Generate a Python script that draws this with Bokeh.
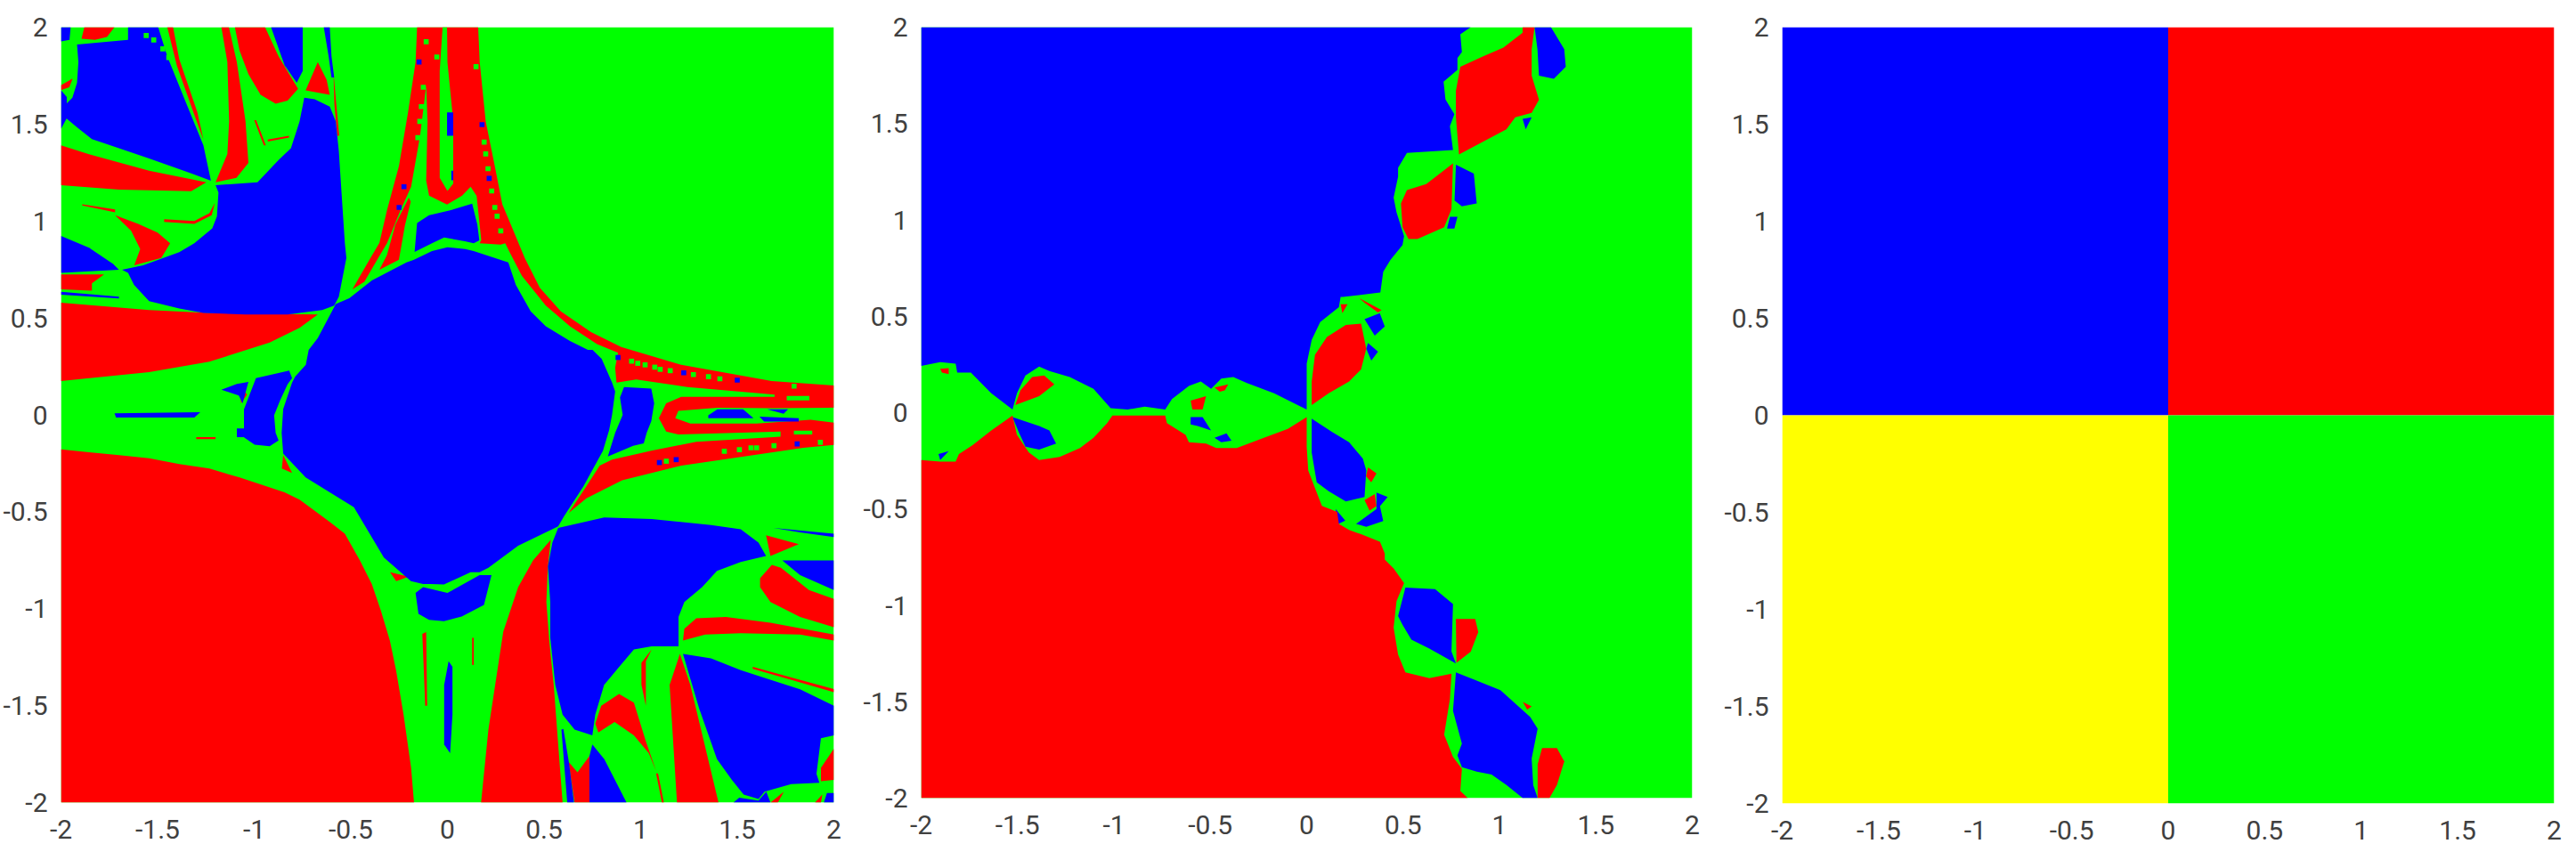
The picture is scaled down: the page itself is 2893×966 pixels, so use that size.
from bokeh.plotting import figure
from bokeh.layouts import row
from bokeh.models import Range1d, FixedTicker
from bokeh.embed import file_html
from bokeh.resources import INLINE

RED, GREEN, BLUE, YELLOW = "#ff0000", "#00ff00", "#0000ff", "#ffff00"
TICKS = [-2, -1.5, -1, -0.5, 0, 0.5, 1, 1.5, 2]
TICK_LABELS = ["-2", "-1.5", "-1", "-0.5", "0", "0.5", "1", "1.5", "2"]

FULL = [(-2, -2), (2, -2), (2, 2), (-2, 2)]

# ---------- left panel: region outlines ----------
A_FAN = [(-1.917,1.911),(-1.653,1.934),(-1.653,2),(-1.497,2),(-1.45,1.85),(-1.357,1.62),(-1.263,1.39),(-1.224,1.208),(-1.326,1.246),(-1.544,1.323),(-1.70,1.376),(-1.84,1.422),(-1.917,1.483),(-1.972,1.529),(-1.972,1.605),(-1.941,1.636),(-1.917,1.713),(-1.91,1.82)]
A_CORNER = [(-2,2),(-1.95,2),(-1.956,1.934),(-2,1.927)]
A_STRIP = [(-2,1.675),(-1.97,1.64),(-1.97,1.53),(-2,1.475)]
A_TOP = [(-0.913,2),(-0.749,2),(-0.749,1.774),(-0.78,1.713),(-0.843,1.804)]
A_TOP2 = [(-0.64,2),(-0.609,2),(-0.6,1.85),(-0.586,1.74),(-0.6,1.74),(-0.615,1.85)]
A_WEDGE = [(-1.2,1.185),(-0.983,1.2),(-0.874,1.315),(-0.81,1.376),(-0.765,1.514),(-0.741,1.636),(-0.687,1.628),(-0.609,1.59),(-0.578,1.514),(-0.562,1.36),(-0.547,1.13),(-0.531,0.887),(-0.523,0.809),(-0.562,0.61),(-0.586,0.564),(-0.648,0.541),(-0.827,0.518),(-1.045,0.518),(-1.263,0.526),(-1.388,0.549),(-1.544,0.587),(-1.622,0.671),(-1.653,0.732),(-1.684,0.748),(-1.575,0.771),(-1.388,0.839),(-1.31,0.885),(-1.217,0.962),(-1.193,1.024),(-1.185,1.147)]
A_LEFT = [(-2,0.923),(-1.855,0.862),(-1.73,0.778),(-1.70,0.748),(-2,0.732)]
A_SLIT = [(-2,0.635),(-1.7,0.61),(-1.7,0.6),(-2,0.62)]
A_INNER = [(-1.723,0.008),(-1.279,0.014),(-1.31,-0.014),(-1.715,-0.014)]
A_CRES_L = [(-0.991,0.19),(-0.819,0.228),(-0.804,0.19),(-0.827,0.159),(-0.866,0.075),(-0.897,-0.002),(-0.889,-0.093),(-0.874,-0.132),(-0.92,-0.162),(-0.998,-0.154),(-1.053,-0.116),(-1.053,0.029)]
A_DIAMOND = [(-0.578,0.572),(-0.671,0.396),(-0.718,0.335),(-0.733,0.258),(-0.788,0.197),(-0.804,0.167),(-0.85,0.03),(-0.858,-0.093),(-0.85,-0.2),(-0.734,-0.323),(-0.484,-0.476),(-0.329,-0.736),(-0.189,-0.858),(-0.126,-0.873),(-0.087,-0.873),(-0.018,-0.875),(0.12,-0.812),(0.166,-0.812),(0.212,-0.789),(0.366,-0.675),(0.573,-0.575),(0.604,-0.522),(0.704,-0.369),(0.788,-0.216),(0.805,-0.185),(0.837,-0.078),(0.852,0.0),(0.868,0.121),(0.852,0.167),(0.798,0.289),(0.751,0.335),(0.727,0.335),(0.634,0.381),(0.509,0.457),(0.431,0.534),(0.354,0.671),(0.315,0.786),(0.213,0.82),(0.136,0.845),(0.092,0.855),(0.0,0.865),(-0.08,0.845),(-0.173,0.80),(-0.212,0.786),(-0.391,0.694),(-0.508,0.602)]
A_LENS_T = [(-0.157,0.99),(-0.095,1.03),(0.014,1.055),(0.128,1.09),(0.155,0.98),(0.165,0.9),(0.136,0.885),(0.09,0.895),(-0.017,0.915),(-0.08,0.885),(-0.17,0.84)]
A_LENS_B = [(-0.165,-0.919),(-0.126,-0.889),(0.0,-0.919),(0.166,-0.827),(0.228,-0.827),(0.189,-0.98),(0.074,-1.04),(-0.018,-1.064),(-0.095,-1.057),(-0.15,-1.026)]
A_CRES_R = [(0.914,0.144),(1.055,0.136),(1.07,0.06),(1.055,-0.032),(1.031,-0.093),(1.016,-0.147),(0.961,-0.16),(0.83,-0.215),(0.868,-0.093),(0.907,0.0),(0.893,0.09)]
A_HAIR1 = [(1.35,-0.002),(1.397,0.029),(1.53,0.029),(1.584,-0.017),(1.35,-0.017)]
A_HAIR2 = [(1.615,-0.009),(1.818,-0.017),(1.818,-0.035),(1.639,-0.035)]
A_HAIR3 = [(1.654,0.029),(1.763,0.029),(1.74,0.006)]
A_CENTER = [(0.573,-0.583),(0.811,-0.529),(1.057,-0.537),(1.364,-0.568),(1.518,-0.59),(1.61,-0.659),(1.649,-0.728),(1.518,-0.759),(1.395,-0.805),(1.318,-0.889),(1.226,-0.965),(1.196,-1.042),(1.196,-1.194),(1.057,-1.194),(0.965,-1.21),(0.888,-1.301),(0.811,-1.393),(0.765,-1.546),(0.75,-1.653),(0.658,-1.623),(0.596,-1.546),(0.558,-1.393),(0.532,-1.149),(0.532,-0.965),(0.52,-0.782),(0.543,-0.659)]
A_RSTRIP = [(1.687,-0.583),(2,-0.613),(2,-0.63),(1.825,-0.606)]
A_RIGHT = [(1.733,-0.751),(2,-0.751),(2,-0.904),(1.825,-0.827)]
A_FAN_R = [(1.219,-1.233),(1.364,-1.256),(1.518,-1.317),(1.825,-1.416),(2,-1.5),(2,-1.653),(1.933,-1.668),(1.91,-1.852),(1.925,-1.898),(1.779,-1.905),(1.641,-1.944),(1.61,-1.982),(1.533,-1.959),(1.472,-1.883),(1.395,-1.776),(1.303,-1.516)]
A_BCORNER = [(1.964,-1.951),(2,-1.951),(2,-2),(1.948,-2)]
A_BSTRIP = [(1.48,-2),(1.51,-1.975),(1.61,-1.99),(1.65,-1.944),(1.672,-2)]
A_BOTTOM = [(0.75,-1.7),(0.812,-1.776),(0.927,-2),(0.735,-2),(0.735,-1.76)]
A_THIN_B = [(0.59,-1.623),(0.6,-1.62),(0.63,-1.8),(0.655,-2),(0.62,-2)]
A_SLIVER = [(0.006,-1.271),(0.026,-1.30),(0.026,-1.546),(0.014,-1.745),(-0.017,-1.70),(-0.017,-1.393)]
A_CLUSTER = [(-1.17,0.13),(-1.09,0.16),(-1.03,0.17),(-1.06,0.06),(-1.08,0.1)]
A_CLUSTER2 = [(-1.09,-0.07),(-1.05,-0.07),(-1.05,-0.115),(-1.09,-0.115)]
A_BLUE = [A_FAN, A_CORNER, A_STRIP, A_TOP, A_TOP2, A_WEDGE, A_LEFT, A_SLIT, A_INNER, A_CRES_L, A_DIAMOND, A_LENS_T, A_LENS_B, A_CRES_R, A_HAIR1, A_HAIR2, A_HAIR3, A_CENTER, A_RSTRIP, A_RIGHT, A_FAN_R, A_BCORNER, A_BSTRIP, A_BOTTOM, A_THIN_B, A_SLIVER, A_CLUSTER, A_CLUSTER2]

B_TL = [(-1.879,2),(-1.723,2),(-1.762,1.95),(-1.824,1.934),(-1.894,1.94)]
B_LBIT = [(-2,1.70),(-1.94,1.735),(-1.957,1.69),(-2,1.675)]
B_BAND = [(-2,1.39),(-1.855,1.345),(-1.544,1.26),(-1.248,1.2),(-1.326,1.154),(-1.70,1.162),(-2,1.185)]
B_VERT = [(-1.17,2),(-1.131,2),(-1.09,1.82),(-1.045,1.514),(-1.03,1.30),(-1.092,1.223),(-1.2,1.2),(-1.139,1.346),(-1.13,1.514),(-1.139,1.82)]
B_THIN = [(-1.45,2),(-1.42,2),(-1.388,1.835),(-1.294,1.56),(-1.263,1.42),(-1.30,1.52),(-1.40,1.80)]
B_LOBE = [(-1.1,2),(-0.944,2),(-0.874,1.85),(-0.773,1.682),(-0.827,1.621),(-0.889,1.605),(-0.967,1.651),(-1.03,1.758),(-1.076,1.88)]
B_TRI = [(-0.671,1.82),(-0.734,1.674),(-0.609,1.651),(-0.625,1.728)]
B_HOOK = [(-1.72,1.03),(-1.6,0.985),(-1.5,0.94),(-1.435,0.885),(-1.481,0.809),(-1.621,0.771),(-1.59,0.855),(-1.637,0.95)]
B_DOTS = [(-1.89,1.086),(-1.72,1.06),(-1.72,1.045),(-1.89,1.08)]
B_CURVE = [(-1.466,1.009),(-1.31,1.0),(-1.232,1.04),(-1.204,1.093),(-1.22,1.03),(-1.31,0.985),(-1.466,0.995)]
B_SMALL = [(-2,0.725),(-1.777,0.725),(-1.84,0.679),(-1.84,0.641),(-2,0.648)]
B_WIDE = [(-2,0.579),(-1.544,0.541),(-1.232,0.526),(-0.671,0.518),(-0.765,0.449),(-0.92,0.373),(-1.232,0.274),(-1.544,0.22),(-2,0.174)]
B_QUAD = [(-2,-0.178),(-1.855,-0.193),(-1.699,-0.208),(-1.544,-0.224),(-1.388,-0.254),(-1.232,-0.277),(-1.076,-0.323),(-0.843,-0.399),(-0.765,-0.438),(-0.609,-0.552),(-0.531,-0.613),(-0.453,-0.751),(-0.391,-0.874),(-0.344,-1.011),(-0.298,-1.164),(-0.266,-1.317),(-0.227,-1.546),(-0.188,-1.821),(-0.173,-2),(-2,-2)]
B_SPEC1 = [(-0.85,-0.208),(-0.804,-0.3),(-0.857,-0.277)]
B_SPEC2 = [(-0.297,-0.812),(-0.2,-0.835),(-0.265,-0.858)]
B_LINE1 = [(-0.13,-1.13),(-0.11,-1.12),(-0.105,-1.5),(-0.115,-1.5)]
B_LINE2 = [(0.128,-1.15),(0.136,-1.15),(0.136,-1.29),(0.128,-1.29)]
B_TOPBAND = [(-0.157,2),(0.159,2),(0.167,1.82),(0.198,1.514),(0.245,1.284),(0.284,1.086),(0.33,0.977),(0.4,0.809),(0.478,0.656),(0.587,0.534),(0.743,0.427),(0.899,0.35),(1.21,0.258),(1.678,0.174),(2,0.151),(2,0.037),(1.693,0.075),(1.693,0.105),(1.241,0.144),(0.977,0.182),(0.875,0.167),(0.868,0.243),(0.883,0.32),(0.774,0.365),(0.634,0.457),(0.509,0.564),(0.385,0.717),(0.322,0.839),(0.299,0.885),(0.276,0.878),(0.167,0.885),(0.175,0.902),(0.151,1.13),(0.12,1.177),(0.076,1.131),(-0.002,1.085),(-0.095,1.131),(-0.11,1.208),(-0.103,1.514),(-0.11,1.697),(-0.142,1.437),(-0.188,1.177),(-0.243,1.055),(-0.313,0.885),(-0.367,0.794),(-0.43,0.686),(-0.492,0.648),(-0.407,0.794),(-0.352,0.887),(-0.313,1.055),(-0.251,1.284),(-0.204,1.56),(-0.165,1.82)]
B_STREAK = [(-0.27,0.98),(-0.2,1.12),(-0.19,1.1),(-0.22,0.977),(-0.251,0.8),(-0.352,0.748),(-0.313,0.824)]
B_HAIRPIN = [(1.693,0.093),(1.21,0.093),(1.132,0.06),(1.094,-0.017),(1.132,-0.086),(1.195,-0.101),(1.724,-0.086),(1.724,-0.112),(1.288,-0.139),(1.055,-0.185),(0.852,-0.231),(0.788,-0.262),(0.719,-0.369),(0.627,-0.506),(0.719,-0.43),(0.904,-0.338),(1.211,-0.262),(1.841,-0.17),(2,-0.155),(2,-0.04),(1.88,-0.025),(1.6,-0.045),(1.257,-0.045),(1.179,-0.017),(1.195,0.021),(1.397,0.037),(1.678,0.034),(2,0.037)]
B_SPIKE = [(0.174,-2),(0.212,-1.623),(0.289,-1.118),(0.366,-0.889),(0.443,-0.751),(0.535,-0.644),(0.52,-0.782),(0.512,-0.965),(0.527,-1.164),(0.55,-1.393),(0.596,-2)]
B_RTRI = [(1.649,-0.621),(1.818,-0.667),(1.672,-0.728)]
B_RLOBE = [(1.679,-0.774),(1.726,-0.789),(1.871,-0.904),(2,-0.95),(2,-1.095),(1.825,-1.042),(1.672,-0.965),(1.618,-0.889),(1.618,-0.843)]
B_RBAND = [(1.219,-1.164),(1.226,-1.103),(1.288,-1.049),(1.441,-1.042),(1.672,-1.072),(2,-1.133),(2,-1.164),(1.825,-1.133),(1.518,-1.126),(1.334,-1.133)]
B_RTHIN = [(1.58,-1.3),(2,-1.415),(2,-1.43),(1.58,-1.31)]
B_RCORNER = [(2,-1.722),(1.933,-1.821),(1.933,-1.89),(2,-1.883)]
B_BOT1 = [(1.902,-2),(1.94,-1.959),(1.933,-2)]
B_BOT2 = [(1.672,-2),(1.741,-1.944),(1.71,-2)]
B_ARC = [(0.765,-1.592),(0.796,-1.5),(0.888,-1.44),(0.965,-1.485),(1.027,-1.684),(1.08,-1.837),(1.042,-1.745),(0.965,-1.653),(0.865,-1.584),(0.781,-1.638)]
B_ARCTHIN = [(1.004,-1.279),(1.057,-1.21),(1.027,-1.271),(1.027,-1.5),(1.004,-1.393)]
B_BIGLOBE = [(1.203,-1.233),(1.257,-1.393),(1.403,-2),(1.188,-2),(1.15,-1.393)]
B_BOT3 = [(0.627,-1.79),(0.673,-1.844),(0.735,-1.76),(0.735,-2),(0.658,-2)]
B_DOTLINE = [(1.09,-1.85),(1.12,-2),(1.11,-2),(1.08,-1.85)]
B_M1 = [(-1.076,0.151),(-1.037,0.105),(-1.068,0.06)]
B_M2 = [(-1.3,-0.115),(-1.2,-0.115),(-1.2,-0.125),(-1.3,-0.125)]
B_M3 = [(-1.0,1.52),(-0.95,1.39),(-0.94,1.39),(-0.99,1.52)]
B_M4 = [(-0.93,1.42),(-0.82,1.44),(-0.82,1.43),(-0.93,1.41)]
B_M5 = [(-0.59,1.77),(-0.575,1.6),(-0.56,1.44),(-0.57,1.44),(-0.585,1.6)]
A_RED = [B_TL, B_LBIT, B_BAND, B_VERT, B_THIN, B_LOBE, B_TRI, B_HOOK, B_DOTS, B_CURVE, B_SMALL, B_WIDE, B_QUAD, B_SPEC1, B_SPEC2, B_LINE1, B_LINE2, B_TOPBAND, B_STREAK, B_HAIRPIN, B_SPIKE, B_RTRI, B_RLOBE, B_RBAND, B_RTHIN, B_RCORNER, B_BOT1, B_BOT2, B_ARC, B_ARCTHIN, B_BIGLOBE, B_BOT3, B_DOTLINE, B_M1, B_M2, B_M3, B_M4, B_M5]

G_HOLE = [(-0.025,2),(-0.002,2),(0.0,1.82),(0.03,1.514),(0.03,1.193),(0.0,1.155),(-0.04,1.223),(-0.04,1.774)]
G_BAR1 = [(1.756,0.098),(1.873,0.098),(1.873,0.075),(1.756,0.075)]
G_BAR2 = [(1.793,-0.081),(1.888,-0.081),(1.888,-0.101),(1.793,-0.101)]
A_GREEN_TOP = [G_HOLE, G_BAR1, G_BAR2]
A_BLUE_TOP = [[(-0.002,1.56),(0.03,1.56),(0.03,1.44),(-0.002,1.44)], [(0.02,1.26),(0.03,1.26),(0.03,1.21),(0.02,1.21)]]

A_GREEN_DOT_X = [0.148,0.19,0.198,0.21,0.229,0.245,0.257,0.276,-0.11,-0.055,-0.125,-0.135,-0.143,-0.153,-1.559,-1.52,-1.473,-1.442,0.953,0.985,1.023,1.073,1.101,1.153,1.273,1.351,1.41,1.794,1.433,1.511,1.571,1.6,1.69,1.93,1.133,1.86,1.89]
A_GREEN_DOT_Y = [1.796,1.407,1.346,1.27,1.155,1.07,1.025,0.949,1.925,1.846,1.69,1.59,1.514,1.43,1.957,1.934,1.888,1.843,0.277,0.266,0.258,0.246,0.235,0.228,0.208,0.197,0.186,0.148,-0.188,-0.18,-0.17,-0.17,-0.159,-0.142,-0.239,0.017,0.017]
A_BLUE_DOT_X = [0.179,0.216,-0.147,-0.225,-0.25,0.883,1.223,1.5,1.81,1.184,1.097]
A_BLUE_DOT_Y = [1.497,1.22,1.82,1.177,1.07,0.296,0.217,0.179,-0.15,-0.231,-0.246]

# ---------- middle panel ----------
M_BLUE_MAIN = [(-2,0.242),(-1.901,0.262),(-1.821,0.254),(-1.813,0.208),(-1.742,0.208),(-1.636,0.1),(-1.526,0.016),(-1.503,0.1),(-1.459,0.193),(-1.388,0.239),(-1.335,0.216),(-1.229,0.185),(-1.106,0.124),(-1.017,0.023),(-0.929,0.016),(-0.84,0.031),(-0.734,0.016),(-0.699,0.07),(-0.611,0.139),(-0.549,0.162),(-0.496,0.124),(-0.443,0.177),(-0.381,0.185),(-0.31,0.154),(-0.169,0.1),(-0.063,0.047),(0.0,0.016),(0,0.177),(0,0.254),(0.026,0.378),(0.07,0.47),(0.167,0.547),(0.176,0.6),(0.189,0.6),(0.382,0.624),(0.397,0.731),(0.435,0.793),(0.497,0.87),(0.505,0.916),(0.466,1.039),(0.451,1.116),(0.474,1.224),(0.474,1.27),(0.52,1.347),(0.759,1.363),(0.751,1.424),(0.743,1.486),(0.766,1.548),(0.72,1.625),(0.71,1.717),(0.782,1.778),(0.782,1.84),(0.805,1.871),(0.797,1.963),(0.851,2.0),(-2,2)]
M_RED_MAIN = [(-2,-0.246),(-1.901,-0.254),(-1.821,-0.254),(-1.804,-0.215),(-1.733,-0.169),(-1.636,-0.092),(-1.526,-0.015),(-1.503,-0.115),(-1.441,-0.207),(-1.388,-0.246),(-1.282,-0.23),(-1.176,-0.184),(-1.106,-0.13),(-1.035,-0.054),(-1.008,-0.015),(-0.734,-0.015),(-0.725,-0.054),(-0.628,-0.115),(-0.611,-0.154),(-0.522,-0.161),(-0.469,-0.184),(-0.363,-0.184),(-0.222,-0.13),(-0.098,-0.084),(0.0,-0.023),(0,-0.177),(0.008,-0.3),(0.043,-0.392),(0.079,-0.484),(0.158,-0.515),(0.167,-0.577),(0.22,-0.608),(0.282,-0.631),(0.38,-0.67),(0.405,-0.731),(0.405,-0.762),(0.451,-0.808),(0.505,-0.885),(0.466,-0.978),(0.451,-1.116),(0.474,-1.255),(0.512,-1.347),(0.636,-1.378),(0.751,-1.355),(0.743,-1.486),(0.713,-1.671),(0.759,-1.786),(0.805,-1.848),(0.797,-1.963),(0.836,-2.0),(-2,-2)]
M_B1 = [(1.182,2),(1.267,2),(1.336,1.886),(1.344,1.794),(1.282,1.732),(1.205,1.748),(1.197,1.886)]
M_B2 = [(0.774,1.286),(0.867,1.24),(0.882,1.086),(0.805,1.07),(0.767,1.1)]
M_B3 = [(1.12,1.524),(1.167,1.532),(1.136,1.47)]
M_B4 = [(0.743,1.016),(0.782,1.016),(0.766,0.955),(0.728,0.955)]
M_B5 = [(0.3,0.485),(0.379,0.516),(0.405,0.447),(0.379,0.424),(0.353,0.4)]
M_B6 = [(0.318,0.362),(0.37,0.316),(0.335,0.27),(0.309,0.331)]
M_B7 = [(-1.526,-0.023),(-1.388,-0.069),(-1.335,-0.092),(-1.3,-0.161),(-1.388,-0.192),(-1.459,-0.177),(-1.494,-0.1)]
M_B8 = [(-0.602,-0.023),(-0.54,-0.023),(-0.496,-0.092),(-0.566,-0.069),(-0.602,-0.061)]
M_B9 = [(-0.478,-0.13),(-0.416,-0.107),(-0.39,-0.146),(-0.443,-0.154)]
M_B10 = [(0.512,-0.908),(0.666,-0.916),(0.759,-0.993),(0.751,-1.239),(0.774,-1.301),(0.636,-1.224),(0.543,-1.178),(0.497,-1.101),(0.474,-1.055)]
M_B11 = [(0.774,-1.347),(1.005,-1.44),(1.159,-1.578),(1.198,-1.64),(1.167,-1.794),(1.175,-1.932),(1.198,-2),(1.121,-2),(1.036,-1.932),(0.959,-1.878),(0.882,-1.863),(0.805,-1.84),(0.782,-1.778),(0.805,-1.717),(0.759,-1.547)]
M_B12 = [(0.026,-0.031),(0.132,-0.1),(0.22,-0.154),(0.291,-0.238),(0.309,-0.3),(0.3,-0.438),(0.203,-0.461),(0.114,-0.408),(0.052,-0.361),(0.026,-0.208)]
M_B13 = [(0.362,-0.415),(0.42,-0.438),(0.38,-0.485),(0.397,-0.562),(0.309,-0.592),(0.256,-0.577),(0.362,-0.5)]
M_B14 = [(0.15,-0.5),(0.2,-0.56),(0.16,-0.58)]
M_B15 = [(-1.91,-0.215),(-1.857,-0.2),(-1.901,-0.246)]
M_BLUE = [M_BLUE_MAIN, M_B1, M_B2, M_B3, M_B4, M_B5, M_B6, M_B7, M_B8, M_B9, M_B10, M_B11, M_B12, M_B13, M_B14, M_B15]
M_R1 = [(1.12,2),(1.182,2),(1.167,1.886),(1.167,1.748),(1.205,1.624),(1.167,1.555),(1.082,1.532),(1.036,1.47),(0.79,1.34),(0.774,1.532),(0.774,1.67),(0.797,1.794),(0.913,1.848),(1.02,1.894),(1.12,1.971)]
M_R2 = [(0.759,1.293),(0.751,1.055),(0.713,0.962),(0.574,0.901),(0.528,0.901),(0.497,0.962),(0.489,1.086),(0.52,1.155),(0.62,1.186)]
M_R3 = [(0.026,0.039),(0.026,0.162),(0.043,0.3),(0.105,0.393),(0.203,0.455),(0.282,0.462),(0.309,0.331),(0.282,0.224),(0.22,0.162),(0.114,0.1)]
M_R4 = [(0.273,0.593),(0.388,0.532),(0.37,0.52),(0.3,0.57)]
M_R5 = [(0.176,0.562),(0.212,0.562),(0.185,0.516)]
M_R6 = [(-1.512,0.039),(-1.485,0.116),(-1.424,0.185),(-1.362,0.193),(-1.309,0.147),(-1.388,0.085)]
M_R7 = [(-0.602,0.062),(-0.522,0.085),(-0.54,0.016),(-0.593,0.016)]
M_R8 = [(-0.478,0.131),(-0.407,0.147),(-0.425,0.116),(-0.451,0.108)]
M_R9 = [(0.774,-1.07),(0.874,-1.07),(0.89,-1.139),(0.851,-1.24),(0.777,-1.298)]
M_R10 = [(1.221,-1.74),(1.298,-1.74),(1.336,-1.809),(1.298,-1.932),(1.259,-2),(1.198,-2),(1.198,-1.825)]
M_R11 = [(1.121,-1.501),(1.167,-1.524),(1.144,-1.54)]
M_R12 = [(0.318,-0.284),(0.362,-0.315),(0.335,-0.361),(0.308,-0.33)]
M_R13 = [(0.3,-0.454),(0.353,-0.423),(0.362,-0.485),(0.326,-0.508)]
M_R14 = [(-1.901,0.227),(-1.857,0.231),(-1.857,0.2),(-1.892,0.208)]
M_RED = [M_RED_MAIN, M_R1, M_R2, M_R3, M_R4, M_R5, M_R6, M_R7, M_R8, M_R9, M_R10, M_R11, M_R12, M_R13, M_R14]

# ---------- right panel ----------
Q_BLUE = [(-2,0),(0,0),(0,2),(-2,2)]
Q_RED = [(0,0),(2,0),(2,2),(0,2)]
Q_YELLOW = [(-2,-2),(0,-2),(0,0),(-2,0)]
Q_GREEN = [(0,-2),(2,-2),(2,0),(0,0)]


def fill(p, color, polys):
    p.patches([[v[0] for v in q] for q in polys], [[v[1] for v in q] for q in polys],
              fill_color=color, line_color=None)


def panel(left, right, top, bottom, fw, fh):
    p = figure(frame_width=fw, frame_height=fh, min_border_left=left, min_border_right=right,
               min_border_top=top, min_border_bottom=bottom,
               x_range=Range1d(-2, 2), y_range=Range1d(-2, 2),
               output_backend="svg", toolbar_location=None, outline_line_color=None)
    p.grid.visible = False
    for ax in (p.xaxis[0], p.yaxis[0]):
        ax.ticker = FixedTicker(ticks=TICKS)
        ax.major_label_overrides = dict(zip(TICKS, TICK_LABELS))
        ax.axis_line_color = None
        ax.major_tick_line_color = None
        ax.minor_tick_line_color = None
        ax.major_label_text_font = "Roboto"
        ax.major_label_text_font_size = "30px"
        ax.major_label_text_color = "#404040"
    p.xaxis[0].major_label_standoff = 13
    p.yaxis[0].major_label_standoff = 9
    return p


p1 = panel(62, 12, 24, 55, 868, 871)
fill(p1, GREEN, [FULL])
fill(p1, RED, A_RED)
fill(p1, BLUE, A_BLUE)
fill(p1, GREEN, A_GREEN_TOP)
fill(p1, BLUE, A_BLUE_TOP)
p1.rect(A_GREEN_DOT_X, A_GREEN_DOT_Y, width=0.026, height=0.026, fill_color=GREEN, line_color=None)
p1.rect(A_BLUE_DOT_X, A_BLUE_DOT_Y, width=0.026, height=0.026, fill_color=BLUE, line_color=None)

p2 = panel(86, 12, 30, 54, 866, 866)
fill(p2, GREEN, [FULL])
fill(p2, BLUE, M_BLUE)
fill(p2, RED, M_RED)

p3 = panel(89, 12, 23, 55, 867, 872)
fill(p3, BLUE, [Q_BLUE])
fill(p3, RED, [Q_RED])
fill(p3, YELLOW, [Q_YELLOW])
fill(p3, GREEN, [Q_GREEN])

open("out.html", "w").write(file_html(row(p1, p2, p3, spacing=0), INLINE))
